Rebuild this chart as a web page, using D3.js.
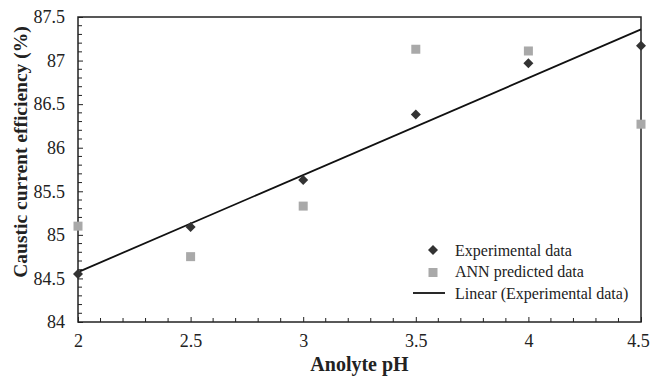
<!DOCTYPE html>
<html>
<head>
<meta charset="utf-8">
<script src="https://cdn.jsdelivr.net/npm/d3@7"></script>
<style>
    body { margin: 0; background: #fff; }
    svg, svg text { font-family: "Liberation Serif", "Times New Roman", Times, "DejaVu Serif", serif; }
</style>
</head>
<body>
<div class="vis"></div>
<script>
// data
var phValues = [2, 2.5, 3, 3.5, 4, 4.5];
var experimental = [84.55, 85.09, 85.63, 86.38, 86.97, 87.17];
var annPredicted = [85.10, 84.75, 85.33, 87.13, 87.11, 86.27];
var xTicks = [2, 2.5, 3, 3.5, 4, 4.5];
var yTicks = [84, 84.5, 85, 85.5, 86, 86.5, 87, 87.5];
var legendLabels = ["Experimental data", "ANN predicted data", "Linear (Experimental data)"];

(function () {
    const svgWidth = 650;
    const svgHeight = 383;
    const serif = '"Liberation Serif", "Times New Roman", Times, "DejaVu Serif", serif';

    var margin = { top: 17, right: 9, bottom: 61, left: 78 };
    var innerWidth = svgWidth - margin.left - margin.right;
    var innerHeight = svgHeight - margin.top - margin.bottom;

    const svg = d3.select('.vis')
        .append('svg')
            .attr('width', svgWidth)
            .attr('height', svgHeight);

    const graph = svg.append('g')
        .attr('transform', `translate(${margin.left}, ${margin.top})`);

    var xScale = d3.scaleLinear().domain([2, 4.5]).range([0, innerWidth]);
    var yScale = d3.scaleLinear().domain([84, 87.5]).range([innerHeight, 0]);

    // minor ticks every 0.1
    var xMinor = d3.range(20, 46).map(d => d / 10).filter(v => xTicks.indexOf(v) < 0);
    var yMinor = d3.range(840, 876).map(d => d / 10).filter(v => yTicks.indexOf(v) < 0);

    graph.selectAll('.xminor').data(xMinor).enter().append('line')
        .attr('x1', d => xScale(d)).attr('x2', d => xScale(d))
        .attr('y1', innerHeight).attr('y2', innerHeight - 4)
        .attr('stroke', '#222').attr('stroke-width', 1);
    graph.selectAll('.yminor').data(yMinor).enter().append('line')
        .attr('y1', d => yScale(d)).attr('y2', d => yScale(d))
        .attr('x1', 0).attr('x2', 4)
        .attr('stroke', '#222').attr('stroke-width', 1);

    // major ticks + labels
    var xAxis = d3.axisBottom(xScale).tickValues(xTicks).tickSizeInner(-5).tickSizeOuter(0)
        .tickPadding(12).tickFormat(d3.format('~g'));
    var callxAxis = graph.append('g')
        .attr('transform', `translate(0, ${innerHeight})`)
        .call(xAxis);

    var yAxis = d3.axisLeft(yScale).tickValues(yTicks).tickSizeInner(-5).tickSizeOuter(0)
        .tickPadding(13).tickFormat(d3.format('~g'));
    var callyAxis = graph.append('g').call(yAxis);

    [callxAxis, callyAxis].forEach(function (a) {
        a.attr('font-family', serif).attr('font-size', 18);
        a.select('.domain').remove();
        a.selectAll('line').attr('stroke', '#222').attr('stroke-width', 1);
        a.selectAll('text').attr('fill', '#222');
    });
    callxAxis.selectAll('text').filter(d => d === 4.5).attr('dx', -3);

    // frame
    graph.append('rect')
        .attr('x', 0).attr('y', 0)
        .attr('width', innerWidth).attr('height', innerHeight)
        .attr('fill', 'none')
        .attr('stroke', '#222')
        .attr('stroke-width', 1.5);

    // linear fit of experimental data
    var mx = d3.mean(phValues), my = d3.mean(experimental);
    var sxy = d3.sum(phValues, (x, i) => (x - mx) * (experimental[i] - my));
    var sxx = d3.sum(phValues, x => (x - mx) * (x - mx));
    var slope = sxy / sxx, intercept = my - slope * mx;
    var fitLine = d3.line().x(d => xScale(d)).y(d => yScale(intercept + slope * d));

    graph.append('path')
        .datum([2, 4.5])
        .attr('d', fitLine)
        .attr('fill', 'none')
        .attr('stroke', '#111')
        .attr('stroke-width', 1.8);

    var diamond = d3.symbol().type(d3.symbolDiamond2).size(64);

    graph.selectAll('.ann').data(phValues).enter().append('rect')
        .attr('x', d => xScale(d) - 4.5)
        .attr('y', (d, i) => yScale(annPredicted[i]) - 4.5)
        .attr('width', 9).attr('height', 9)
        .attr('fill', '#a9a9a9');

    graph.selectAll('.exp').data(phValues).enter().append('path')
        .attr('d', diamond)
        .attr('transform', (d, i) => `translate(${xScale(d)}, ${yScale(experimental[i])})`)
        .attr('fill', '#333');

    // legend
    var legend = svg.append('g').attr('transform', 'translate(433, 250)')
        .attr('font-family', serif);
    legend.append('path').attr('d', diamond).attr('fill', '#333');
    legend.append('rect').attr('x', -4.5).attr('y', 22.5 - 4.5).attr('width', 9).attr('height', 9).attr('fill', '#a9a9a9');
    legend.append('line').attr('x1', -20).attr('x2', 12).attr('y1', 43).attr('y2', 43)
        .attr('stroke', '#111').attr('stroke-width', 1.8);
    legend.selectAll('text').data(legendLabels).enter().append('text')
        .attr('x', 22)
        .attr('y', (d, i) => i * 21.5)
        .attr('dy', '0.35em')
        .attr('fill', '#222')
        .attr('font-size', 16)
        .text(d => d);

    // axis titles
    svg.append('text')
        .attr('x', margin.left + innerWidth / 2)
        .attr('y', 371)
        .attr('text-anchor', 'middle')
        .attr('fill', '#222')
        .attr('font-family', serif)
        .attr('font-size', 20)
        .attr('font-weight', 'bold')
        .text('Anolyte pH');

    svg.append('text')
        .attr('transform', 'rotate(-90)')
        .attr('x', -152)
        .attr('y', 27)
        .attr('text-anchor', 'middle')
        .attr('fill', '#222')
        .attr('font-family', serif)
        .attr('font-size', 19.5)
        .attr('font-weight', 'bold')
        .text('Caustic current efficiency (%)');
} (d3));
</script>
</body>
</html>
